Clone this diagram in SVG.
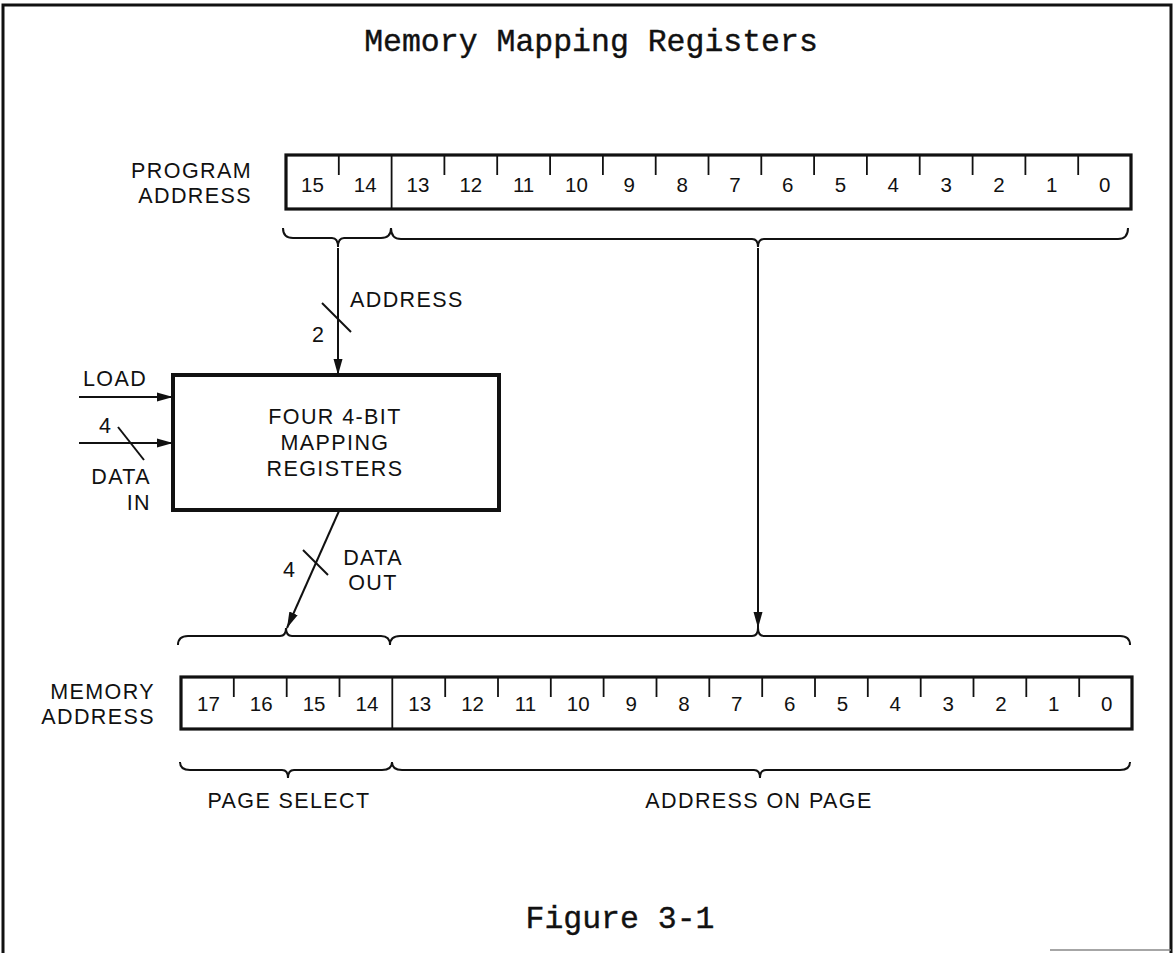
<svg xmlns="http://www.w3.org/2000/svg" width="1175" height="953" viewBox="0 0 1175 953">
<style>
.frame{fill:none;stroke:#111;stroke-width:3}
.reg{fill:#fff;stroke:#111;stroke-width:3.2}
.div{stroke:#111;stroke-width:1.8}
.tick{stroke:#111;stroke-width:1.8}
.brace{fill:none;stroke:#111;stroke-width:2}
.wire{fill:none;stroke:#111;stroke-width:2}
.box{fill:#fff;stroke:#111;stroke-width:4}
.lbl{font-family:"Liberation Sans",Arial,sans-serif;font-size:21.5px;letter-spacing:1.4px;fill:#111}
.num{font-family:"Liberation Sans",Arial,sans-serif;font-size:20.5px;fill:#111;text-anchor:middle}
.mono{font-family:"Liberation Mono","Courier New",monospace;font-size:31.5px;fill:#111;stroke:#111;stroke-width:0.4;text-anchor:middle}
</style>
<defs>
<marker id="arr" markerUnits="userSpaceOnUse" markerWidth="17" markerHeight="11" refX="16" refY="5" orient="auto" viewBox="0 0 17 11">
<path d="M0,0.5 L16,5 L0,9.5 z" fill="#111"/>
</marker>
</defs>
<rect width="1175" height="953" fill="#fff"/>
<g id="frame">
<path class="frame" d="M3,953 L3,5 L1171,5 L1171,953"/>
<line x1="1050" y1="950" x2="1171" y2="950" stroke="#888" stroke-width="1.5"/>
</g>
<g id="title"><text class="mono" x="591" y="51">Memory Mapping Registers</text></g>

<g id="program-address">
<text class="lbl" x="252" y="178" text-anchor="end">PROGRAM</text>
<text class="lbl" x="252" y="203" text-anchor="end">ADDRESS</text>
<rect class="reg" x="286" y="155" width="845" height="54"/>
<line class="div" x1="391.6" y1="155" x2="391.6" y2="209"/>
<g class="tick">
<line x1="338.8" y1="155" x2="338.8" y2="175"/>
<line x1="444.4" y1="155" x2="444.4" y2="175"/>
<line x1="497.2" y1="155" x2="497.2" y2="175"/>
<line x1="550.1" y1="155" x2="550.1" y2="175"/>
<line x1="602.9" y1="155" x2="602.9" y2="175"/>
<line x1="655.7" y1="155" x2="655.7" y2="175"/>
<line x1="708.5" y1="155" x2="708.5" y2="175"/>
<line x1="761.3" y1="155" x2="761.3" y2="175"/>
<line x1="814.1" y1="155" x2="814.1" y2="175"/>
<line x1="866.9" y1="155" x2="866.9" y2="175"/>
<line x1="919.7" y1="155" x2="919.7" y2="175"/>
<line x1="972.6" y1="155" x2="972.6" y2="175"/>
<line x1="1025.4" y1="155" x2="1025.4" y2="175"/>
<line x1="1078.2" y1="155" x2="1078.2" y2="175"/>
</g>
<text class="num" x="312.4" y="192">15</text>
<text class="num" x="365.2" y="192">14</text>
<text class="num" x="418" y="192">13</text>
<text class="num" x="470.8" y="192">12</text>
<text class="num" x="523.6" y="192">11</text>
<text class="num" x="576.5" y="192">10</text>
<text class="num" x="629.3" y="192">9</text>
<text class="num" x="682.1" y="192">8</text>
<text class="num" x="734.9" y="192">7</text>
<text class="num" x="787.7" y="192">6</text>
<text class="num" x="840.5" y="192">5</text>
<text class="num" x="893.3" y="192">4</text>
<text class="num" x="946.1" y="192">3</text>
<text class="num" x="999" y="192">2</text>
<text class="num" x="1051.8" y="192">1</text>
<text class="num" x="1104.6" y="192">0</text>
<path class="brace" d="M283,228 Q283,238 293,238 L332,238 Q338,238 338,247 Q338,238 344,238 L381,238 Q391,238 391,228"/>
<path class="brace" d="M391,228 Q391,239 401,239 L752,239 Q758,239 758,247 Q758,239 764,239 L1118,239 Q1128,239 1128,228"/>
</g>

<g id="mapping-registers">
<rect class="box" x="173" y="375" width="326" height="135"/>
<text class="lbl" x="335" y="424" text-anchor="middle">FOUR 4-BIT</text>
<text class="lbl" x="335" y="450" text-anchor="middle">MAPPING</text>
<text class="lbl" x="335" y="476" text-anchor="middle">REGISTERS</text>
</g>

<g id="memory-address">
<text class="lbl" x="155" y="699" text-anchor="end">MEMORY</text>
<text class="lbl" x="155" y="724" text-anchor="end">ADDRESS</text>
<rect class="reg" x="181" y="677" width="951" height="52"/>
<line class="div" x1="392.3" y1="677" x2="392.3" y2="729"/>
<g class="tick">
<line x1="233.8" y1="677" x2="233.8" y2="697"/>
<line x1="286.7" y1="677" x2="286.7" y2="697"/>
<line x1="339.5" y1="677" x2="339.5" y2="697"/>
<line x1="445.2" y1="677" x2="445.2" y2="697"/>
<line x1="498" y1="677" x2="498" y2="697"/>
<line x1="550.8" y1="677" x2="550.8" y2="697"/>
<line x1="603.6" y1="677" x2="603.6" y2="697"/>
<line x1="656.5" y1="677" x2="656.5" y2="697"/>
<line x1="709.3" y1="677" x2="709.3" y2="697"/>
<line x1="762.2" y1="677" x2="762.2" y2="697"/>
<line x1="815" y1="677" x2="815" y2="697"/>
<line x1="867.8" y1="677" x2="867.8" y2="697"/>
<line x1="920.7" y1="677" x2="920.7" y2="697"/>
<line x1="973.5" y1="677" x2="973.5" y2="697"/>
<line x1="1026.3" y1="677" x2="1026.3" y2="697"/>
<line x1="1079.2" y1="677" x2="1079.2" y2="697"/>
</g>
<text class="num" x="208.4" y="711">17</text>
<text class="num" x="261.2" y="711">16</text>
<text class="num" x="314.1" y="711">15</text>
<text class="num" x="366.9" y="711">14</text>
<text class="num" x="419.7" y="711">13</text>
<text class="num" x="472.6" y="711">12</text>
<text class="num" x="525.4" y="711">11</text>
<text class="num" x="578.2" y="711">10</text>
<text class="num" x="631.1" y="711">9</text>
<text class="num" x="683.9" y="711">8</text>
<text class="num" x="736.7" y="711">7</text>
<text class="num" x="789.6" y="711">6</text>
<text class="num" x="842.4" y="711">5</text>
<text class="num" x="895.2" y="711">4</text>
<text class="num" x="948.1" y="711">3</text>
<text class="num" x="1000.9" y="711">2</text>
<text class="num" x="1053.7" y="711">1</text>
<text class="num" x="1106.6" y="711">0</text>
<path class="brace" d="M178,645 Q178,636 188,636 L280,636 Q286,636 286,628 Q286,636 292,636 L381,636 Q390,636 390,645"/>
<path class="brace" d="M390,645 Q390,636 400,636 L752,636 Q758,636 758,628 Q758,636 764,636 L1120,636 Q1130,636 1130,645"/>
<path class="brace" d="M180,762 Q180,770 190,770 L282,770 Q288,770 288,778 Q288,770 294,770 L382,770 Q392,770 392,762"/>
<path class="brace" d="M392,762 Q392,770 402,770 L754,770 Q760,770 760,778 Q760,770 766,770 L1120,770 Q1130,770 1130,762"/>
<text class="lbl" x="289" y="808" text-anchor="middle">PAGE SELECT</text>
<text class="lbl" x="759" y="808" text-anchor="middle">ADDRESS ON PAGE</text>
</g>

<g id="connectors">
<line class="wire" x1="338" y1="248" x2="338" y2="375" marker-end="url(#arr)"/>
<line class="wire" x1="322" y1="303" x2="351" y2="332"/>
<text class="lbl" x="312" y="342">2</text>
<text class="lbl" x="350" y="307">ADDRESS</text>

<line class="wire" x1="79" y1="397" x2="173" y2="397" marker-end="url(#arr)"/>
<text class="lbl" x="83" y="386">LOAD</text>

<line class="wire" x1="79" y1="443" x2="173" y2="443" marker-end="url(#arr)"/>
<line class="wire" x1="118" y1="427" x2="144" y2="460"/>
<text class="lbl" x="99" y="433">4</text>
<text class="lbl" x="151" y="484" text-anchor="end">DATA</text>
<text class="lbl" x="151" y="510" text-anchor="end">IN</text>

<line class="wire" x1="339" y1="511" x2="287" y2="628" marker-end="url(#arr)"/>
<line class="wire" x1="303" y1="550" x2="328" y2="575"/>
<text class="lbl" x="283" y="577">4</text>
<text class="lbl" x="373" y="565" text-anchor="middle">DATA</text>
<text class="lbl" x="373" y="590" text-anchor="middle">OUT</text>

<line class="wire" x1="758" y1="248" x2="758" y2="628" marker-end="url(#arr)"/>
</g>

<g id="caption"><text class="mono" x="620" y="928">Figure 3-1</text></g>
</svg>
